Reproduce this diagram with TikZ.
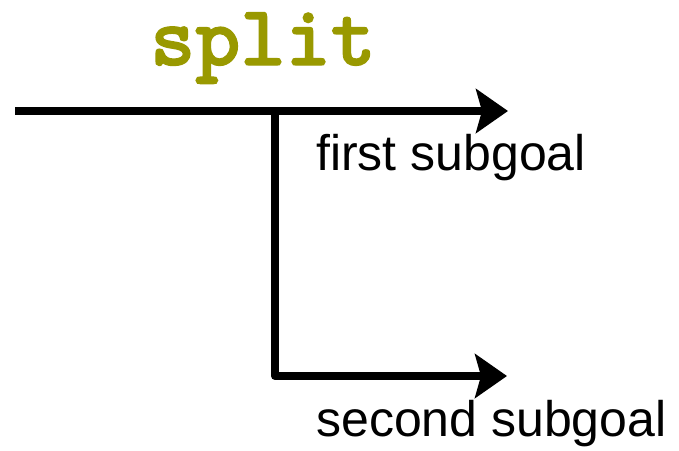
\documentclass[tikz,border=0pt]{standalone}
\usepackage{fontspec}
\setmainfont{Liberation Sans}
\newfontfamily\codefont{lmmonolt10-bold.otf}[FakeBold=1.6]
\usetikzlibrary{arrows.meta}
\definecolor{olivetext}{HTML}{999900}
\begin{document}
\begin{tikzpicture}[x=1pt,y=-1pt,
  conn/.style={line width=8pt, line join=round, -{Stealth[length=32pt,width=44pt,inset=6pt]}},
  lbl/.style={anchor=base west, inner sep=0pt, font=\fontsize{50}{60}\selectfont},
  ttl/.style={anchor=base, inner sep=0pt, text height=54pt, text depth=16pt, text=olivetext, font=\codefont\fontsize{86}{90}\selectfont}]
\useasboundingbox (0,0) rectangle (679,450);
\coordinate (start) at (15,111);
\coordinate (branch) at (275,111);
\coordinate (corner) at (275,376);
\coordinate (topend) at (508,111);
\coordinate (botend) at (507,376);
\node[ttl] (title) at (263,65) {split};
\draw[conn] (start) -- (topend);
\draw[conn] (branch) -- (corner) -- (botend);
\node[lbl] (first) at (316,170) {first subgoal};
\node[lbl] (second) at (316,436) {second subgoal};
\end{tikzpicture}
\end{document}
